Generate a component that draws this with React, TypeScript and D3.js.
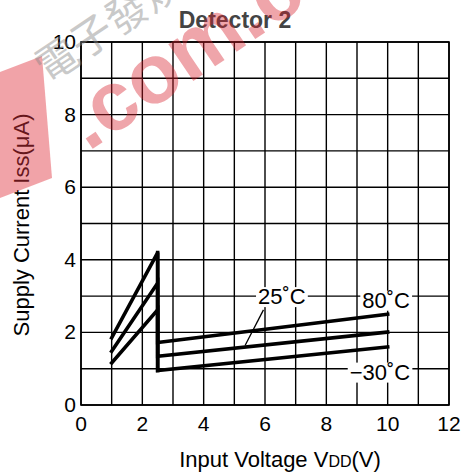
import React, { useEffect, useRef } from 'react';
import * as d3 from 'd3';

// supply current curves: [Vdd, Iss]
const curve80: [number, number][] = [[1, 1.85], [2.5, 4.2], [2.5, 1.72], [10, 2.5]];
const curve25: [number, number][] = [[1, 1.48], [2.5, 3.36], [2.5, 1.34], [10, 2.01]];
const curveM30: [number, number][] = [[1, 1.16], [2.5, 2.62], [2.5, 0.95], [10, 1.6]];
const jumpLine: [number, number][] = [[2.5, 4.2], [2.5, 0.95]];
const xTicks = [0, 2, 4, 6, 8, 10, 12];
const yTicks = [0, 2, 4, 6, 8, 10];

export default function App() {
  const svgRef = useRef<SVGSVGElement>(null);

  useEffect(() => {
    if (!svgRef.current) return;
    const width = 464;
    const height = 475;
    const margin = { top: 42, right: 15, bottom: 70, left: 81 };

    const svg = d3.select(svgRef.current);
    svg.selectAll('*').remove();

    const x = d3.scaleLinear().domain([0, 12]).range([margin.left, width - margin.right]);
    const y = d3.scaleLinear().domain([0, 10]).range([height - margin.bottom, margin.top]);
    const font = 'Arial, "Liberation Sans", sans-serif';

    // grid
    const grid = svg.append('g').attr('stroke', '#000').attr('stroke-width', 1.4);
    d3.range(0, 13).forEach(v => {
      grid.append('line').attr('x1', x(v)).attr('x2', x(v)).attr('y1', y(0)).attr('y2', y(10));
    });
    d3.range(0, 11).forEach(v => {
      grid.append('line').attr('x1', x(0)).attr('x2', x(12)).attr('y1', y(v)).attr('y2', y(v));
    });
    svg.append('rect')
      .attr('x', x(0)).attr('y', y(10))
      .attr('width', x(12) - x(0)).attr('height', y(0) - y(10))
      .attr('fill', 'none').attr('stroke', '#000').attr('stroke-width', 1.6);

    // tick labels
    svg.append('g').selectAll('text').data(xTicks).enter().append('text')
      .attr('x', d => x(d)).attr('y', 431)
      .attr('text-anchor', 'middle')
      .style('font-family', font).style('font-size', '21px')
      .text(d => d);
    svg.append('g').selectAll('text').data(yTicks).enter().append('text')
      .attr('x', 76).attr('y', d => y(d) + 7)
      .attr('text-anchor', 'end')
      .style('font-family', font).style('font-size', '21px')
      .text(d => d);

    // curves
    const line = d3.line<[number, number]>().x(d => x(d[0])).y(d => y(d[1]));
    [curve80, curve25, curveM30, jumpLine].forEach(c => {
      svg.append('path').attr('d', line(c)).attr('fill', 'none')
        .attr('stroke', '#000').attr('stroke-width', 3.6)
        .attr('stroke-linejoin', 'miter').attr('stroke-linecap', 'square');
    });

    // curve labels with white backing
    const labels = [
      { text: '25˚C', vx: 6.55, vy: 3.0 },
      { text: '80˚C', vx: 9.95, vy: 2.9 },
      { text: '−30˚C', vx: 9.75, vy: 0.92 },
    ];
    labels.forEach(l => {
      const t = svg.append('text')
        .attr('x', x(l.vx)).attr('y', y(l.vy) + 8)
        .attr('text-anchor', 'middle')
        .style('font-family', font).style('font-size', '22px')
        .text(l.text);
      const bb = (t.node() as SVGTextElement).getBBox();
      svg.insert('rect', () => t.node())
        .attr('x', bb.x - 2).attr('y', bb.y + 3)
        .attr('width', bb.width + 4).attr('height', bb.height - 5)
        .attr('fill', '#fff');
    });
    // leader for 25˚C
    svg.append('line')
      .attr('x1', x(5.95)).attr('y1', y(2.62))
      .attr('x2', x(5.35)).attr('y2', y(1.64))
      .attr('stroke', '#000').attr('stroke-width', 1.3);

    // title
    svg.append('text')
      .attr('x', 235).attr('y', 28)
      .attr('text-anchor', 'middle')
      .style('font-family', font).style('font-size', '23px').style('font-weight', 'bold')
      .attr('fill', '#444')
      .text('Detector 2');

    // axis titles
    const xt = svg.append('text')
      .attr('x', 280).attr('y', 467)
      .attr('text-anchor', 'middle')
      .style('font-family', font).style('font-size', '22px');
    xt.append('tspan').text('Input Voltage V');
    xt.append('tspan').style('font-size', '16px').text('DD');
    xt.append('tspan').text('(V)');

    svg.append('text')
      .attr('transform', `translate(29,225) rotate(-90)`)
      .attr('text-anchor', 'middle')
      .style('font-family', font).style('font-size', '22px')
      .text('Supply Current Iss(μA)');

    // watermark overlay
    const wm = svg.append('g').style('pointer-events', 'none');
    wm.append('polygon')
      .attr('points', '0,72 42,56 52,178 0,198')
      .attr('fill', '#e0333d').attr('opacity', 0.45);
    wm.append('text')
      .attr('transform', 'translate(88,152) rotate(-34)')
      .style('font-family', font).style('font-size', '84px').style('font-weight', 'bold')
      .attr('fill', '#d8202c').attr('opacity', 0.4)
      .text('.com.cn');
    wm.append('text')
      .attr('transform', 'translate(48,84) rotate(-34)')
      .style('font-family', '"Noto Sans CJK SC", sans-serif').style('font-size', '42px')
      .attr('fill', '#888').attr('opacity', 0.45)
      .text('電子發燒友');
  }, []);

  return (
    <svg ref={svgRef} width={464} height={475}
      style={{ position: 'absolute', left: 0, top: 0, background: '#fff' }} />
  );
}
